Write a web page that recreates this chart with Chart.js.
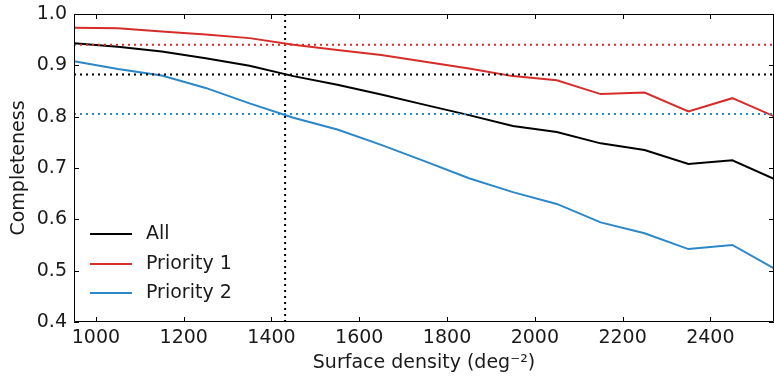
<!DOCTYPE html>
<html>
<head>
<meta charset="utf-8">
<script src="https://cdn.jsdelivr.net/npm/chart.js@4.4.0/dist/chart.umd.min.js"></script>
<style>
  html, body { margin: 0; padding: 0; background: #fff; }
</style>
</head>
<body>
<canvas id="myChart" width="774" height="376"></canvas>
<script>
// values
const density = [950, 1050, 1150, 1250, 1350, 1450, 1550, 1650, 1750, 1850, 1950, 2050, 2150, 2250, 2350, 2450, 2550];
const allTargets = [0.943, 0.936, 0.927, 0.914, 0.899, 0.879, 0.862, 0.843, 0.823, 0.803, 0.782, 0.770, 0.748, 0.735, 0.708, 0.715, 0.677];
const priority1 = [0.973, 0.972, 0.966, 0.960, 0.953, 0.940, 0.930, 0.920, 0.907, 0.894, 0.879, 0.871, 0.844, 0.847, 0.810, 0.836, 0.799];
const priority2 = [0.908, 0.893, 0.880, 0.856, 0.826, 0.798, 0.775, 0.745, 0.713, 0.680, 0.653, 0.630, 0.594, 0.573, 0.542, 0.550, 0.502];

const xTicks = [1000, 1200, 1400, 1600, 1800, 2000, 2200, 2400];
const yTicks = [0.4, 0.5, 0.6, 0.7, 0.8, 0.9, 1.0];
const xRange = [950, 2545];
const yRange = [0.4, 1.0];

// reference levels (dotted)
const levelAll = 0.882;
const levelP1 = 0.940;
const levelP2 = 0.805;
const densityCut = 1431;

const colAll = "#000000";
const colP1 = "#d62d2a";
const colP2 = "#2b87c8";
const textCol = "#1a1a1a";

function toPoints(xs, ys) {
  return xs.map((x, i) => ({ x: x, y: ys[i] }));
}

function hLine(level, color) {
  return {
    label: "",
    data: [{ x: xRange[0], y: level }, { x: xRange[1], y: level }],
    borderColor: color,
    borderWidth: 2,
    borderDash: [2, 4],
    pointRadius: 0,
    showLine: true,
  };
}

const series = [
  { label: "All", data: toPoints(density, allTargets), color: colAll },
  { label: "Priority 1", data: toPoints(density, priority1), color: colP1 },
  { label: "Priority 2", data: toPoints(density, priority2), color: colP2 },
];

// inward tick marks on all four sides + the frame, matplotlib style
const frameTicks = {
  id: "frameTicks",
  afterDraw(chart) {
    const ctx = chart.ctx;
    const a = chart.chartArea;
    const xs = chart.scales.x, ys = chart.scales.y;
    ctx.save();
    ctx.strokeStyle = "#000";
    ctx.lineWidth = 1;
    ctx.beginPath();
    ctx.rect(a.left + 0.5, a.top + 0.5, a.right - a.left - 1, a.bottom - a.top - 1);
    xTicks.forEach(v => {
      const px = Math.round(xs.getPixelForValue(v)) + 0.5;
      ctx.moveTo(px, a.bottom); ctx.lineTo(px, a.bottom - 5);
      ctx.moveTo(px, a.top); ctx.lineTo(px, a.top + 5);
    });
    yTicks.forEach(v => {
      const py = Math.round(ys.getPixelForValue(v)) + 0.5;
      ctx.moveTo(a.left, py); ctx.lineTo(a.left + 5, py);
      ctx.moveTo(a.right, py); ctx.lineTo(a.right - 5, py);
    });
    ctx.stroke();

    // legend, lower left inside the axes
    ctx.font = "19px 'DejaVu Sans'";
    ctx.textBaseline = "middle";
    ctx.fillStyle = textCol;
    const rows = [234, 264, 293];
    series.forEach((s, i) => {
      ctx.strokeStyle = s.color;
      ctx.lineWidth = 2;
      ctx.beginPath();
      ctx.moveTo(90, rows[i]); ctx.lineTo(132, rows[i]);
      ctx.stroke();
      ctx.fillText(s.label, 146, rows[i]);
    });
    ctx.restore();
  }
};

new Chart(document.getElementById("myChart"), {
  type: "scatter",
  data: {
    datasets: [
      hLine(levelP1, colP1),
      hLine(levelAll, colAll),
      hLine(levelP2, colP2),
      {
        label: "",
        data: [{ x: densityCut, y: yRange[0] }, { x: densityCut, y: yRange[1] }],
        borderColor: "#000",
        borderWidth: 2,
        borderDash: [2, 4],
        pointRadius: 0,
        showLine: true,
      },
      ...series.map(s => ({
        label: s.label,
        data: s.data,
        borderColor: s.color,
        borderWidth: 2,
        pointRadius: 0,
        showLine: true,
      })),
    ],
  },
  options: {
    responsive: false,
    animation: false,
    layout: { padding: { top: 14, right: 0, left: 0, bottom: 0 } },
    plugins: { legend: { display: false }, tooltip: { enabled: false } },
    scales: {
      x: {
        type: "linear",
        min: xRange[0],
        max: xRange[1],
        afterBuildTicks: (scale) => { scale.ticks = xTicks.map(v => ({ value: v })); },
        afterFit: (scale) => { scale.height = 54; scale.paddingLeft = 0; scale.paddingRight = 0; },
        grid: { display: false, drawTicks: false },
        border: { display: false },
        ticks: {
          color: textCol,
          font: { family: "DejaVu Sans", size: 19 },
          padding: 5,
          maxRotation: 0,
          callback: (v) => String(v),
        },
        title: {
          display: true,
          text: "Surface density (deg\u207B\u00B2)",
          color: textCol,
          font: { family: "DejaVu Sans", size: 19 },
          padding: { top: 0, bottom: 2 },
        },
      },
      y: {
        min: yRange[0],
        max: yRange[1],
        afterBuildTicks: (scale) => { scale.ticks = yTicks.map(v => ({ value: v })); },
        afterFit: (scale) => { scale.width = 74; scale.paddingTop = 0; scale.paddingBottom = 0; },
        grid: { display: false, drawTicks: false },
        border: { display: false },
        ticks: {
          color: textCol,
          font: { family: "DejaVu Sans", size: 19 },
          padding: 7,
          callback: (v) => v.toFixed(1),
        },
        title: {
          display: true,
          text: "Completeness",
          color: textCol,
          font: { family: "DejaVu Sans", size: 19 },
          padding: { top: 8, bottom: 0 },
        },
      },
    },
  },
  plugins: [frameTicks],
});
</script>
</body>
</html>
